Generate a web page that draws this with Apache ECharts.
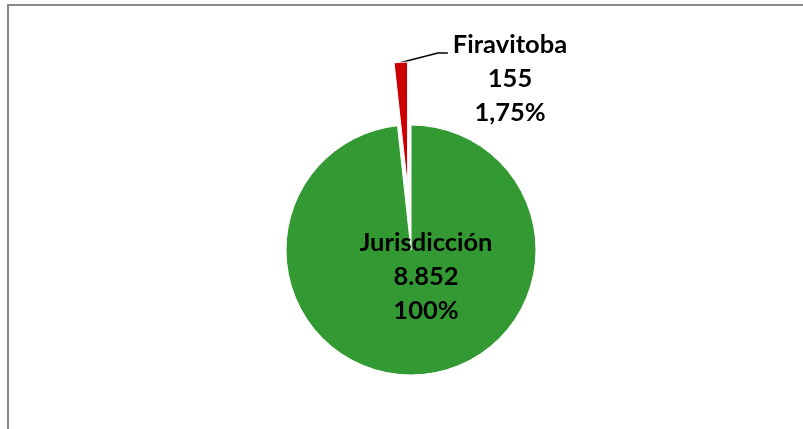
<!DOCTYPE html>
<html><head><meta charset="utf-8">
<script src="https://cdn.jsdelivr.net/npm/echarts@6/dist/echarts.min.js"></script>
<style>html,body{margin:0;padding:0;background:#fff}#c{width:803px;height:429px}</style>
</head><body><div id="c"></div>
<script>
const categories = ['Jurisdicción', 'Firavitoba'];
const values = [8852, 155];
const colors = ['#339933', '#CC0000'];
const total = values[0];

function fmtInt(n) { return String(n).replace(/\B(?=(\d{3})+(?!\d))/g, '.'); }
function fmtPct(v) {
  const s = (v / total * 100).toFixed(2).replace(/\.?0+$/, '');
  return s.replace('.', ',') + '%';
}

const FS = 25.5, LH = 34, SEL = 63;
// shift applied by the selected state to the exploded slice (and its label)
const midAng = (90 + values[1] / (values[0] + values[1]) * 180) * Math.PI / 180;
const shiftX = SEL * Math.cos(midAng), shiftY = -SEL * Math.sin(midAng);

const chart = echarts.init(document.getElementById('c'), null, { renderer: 'canvas' });
chart.setOption({
  animation: false,
  backgroundColor: '#fff',
  graphic: [{
    type: 'rect', silent: true, z: -1,
    shape: { x: 8, y: 5, width: 1200, height: 1200 },
    style: { fill: null, stroke: '#898989', lineWidth: 2 }
  }],
  series: [{
    type: 'pie',
    center: [411, 250],
    radius: 125,
    startAngle: 90,
    clockwise: true,
    selectedMode: 'single',
    selectedOffset: SEL,
    avoidLabelOverlap: false,
    emphasis: { disabled: true },
    itemStyle: { borderColor: '#fff', borderWidth: 1 },
    label: {
      color: '#000', fontFamily: 'Lato', fontWeight: 'bold', fontSize: FS, lineHeight: LH,
      formatter: p => '{t|' + p.name + '}\n{t|' + fmtInt(p.value) + '}\n{t|' + fmtPct(p.value) + '}',
      rich: { t: { color: '#000', fontFamily: 'Lato', fontWeight: 'bold', fontSize: FS, lineHeight: LH, align: 'center' } }
    },
    labelLine: { lineStyle: { color: '#000', width: 1.6 }, length: 10, length2: 10 },
    labelLayout: function (p) {
      const r = p.labelRect;
      const cx = r.x + r.width / 2, cy = r.y + r.height / 2;
      if (p.dataIndex === 0) {
        return { dx: 426 - cx, dy: 277 - cy };
      }
      const dx = (510 - shiftX) - cx, dy = (79 - shiftY) - cy;
      const left = r.x + dx, firstY = r.y + dy + LH / 2 + 8;
      const s = p.rect;
      return {
        dx: dx, dy: dy,
        labelLinePoints: [[s.x + s.width / 2, s.y + 1], [left - 15, firstY], [left - 5, firstY]]
      };
    },
    data: categories.map((n, i) => ({
      name: n,
      value: values[i],
      selected: i === 1,
      itemStyle: { color: colors[i] },
      label: { position: i === 0 ? 'center' : 'outside' },
      labelLine: { show: i === 1 }
    }))
  }]
});
</script>
</body></html>
